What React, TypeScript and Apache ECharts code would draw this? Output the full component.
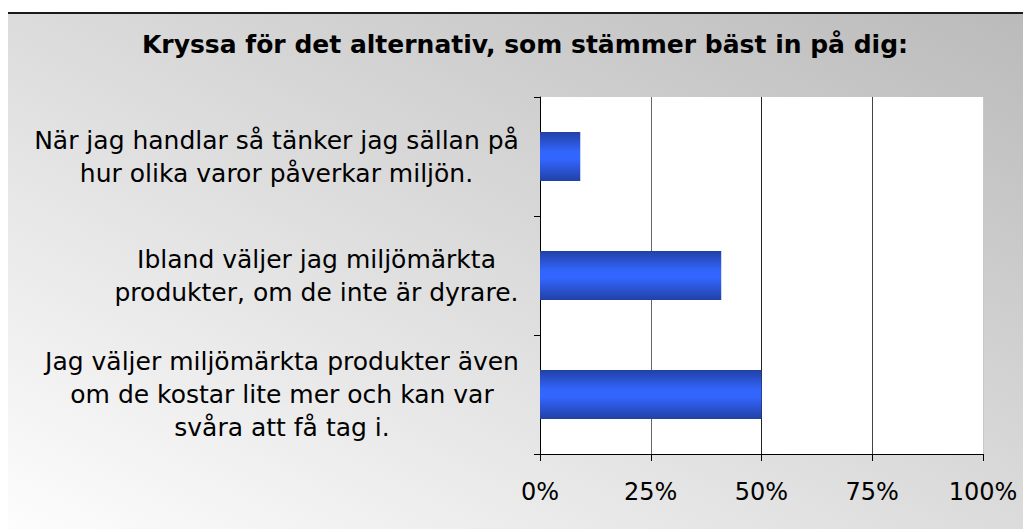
import React, { useEffect, useRef } from "react";
import * as echarts from "echarts";

const TITLE = "Kryssa för det alternativ, som stämmer bäst in på dig:";
// bottom-to-top order (category axis draws first item at the bottom)
const CATEGORIES = [
  "Jag väljer miljömärkta produkter även\nom de kostar lite mer och kan var\nsvåra att få tag i.",
  "Ibland väljer jag miljömärkta\nprodukter, om de inte är dyrare.",
  "När jag handlar så tänker jag sällan på\nhur olika varor påverkar miljön.",
];
const VALUES = [50, 40.91, 9.09];
const X_MIN = 0;
const X_MAX = 100;
const X_INTERVAL = 25;

const FONT = '"DejaVu Sans", Verdana, sans-serif';
const LABEL_SIZE = 25;

function measure(text: string, size: number): number {
  const c = document.createElement("canvas");
  const ctx = c.getContext("2d");
  if (!ctx) return 400;
  ctx.font = `${size}px ${FONT}`;
  return Math.max(...text.split("\n").map((l) => ctx.measureText(l).width));
}

export default function App() {
  const ref = useRef<HTMLDivElement>(null);
  useEffect(() => {
    if (!ref.current) return;
    const chart = echarts.init(ref.current, undefined, { renderer: "svg" });
    const rich: Record<string, any> = {};
    CATEGORIES.forEach((c, i) => {
      rich["c" + i] = {
        width: Math.ceil(measure(c, LABEL_SIZE)),
        align: "center",
        fontSize: LABEL_SIZE,
        lineHeight: 33,
        fontFamily: FONT,
        color: "#000",
      };
    });
    const barColor = new echarts.graphic.LinearGradient(0, 0, 0, 1, [
      { offset: 0, color: "#2241a6" },
      { offset: 0.4, color: "#3265fb" },
      { offset: 0.55, color: "#3366ff" },
      { offset: 1, color: "#2241a6" },
    ]);
    chart.setOption({
      animation: false,
      backgroundColor: "#ffffff",
      graphic: [
        {
          type: "rect",
          z: -10,
          silent: true,
          left: 7,
          top: 13,
          shape: { width: 1030, height: 520 },
          style: {
            fill: new echarts.graphic.LinearGradient(0, 1, 1, 0, [
              { offset: 0, color: "#fdfdfd" },
              { offset: 1, color: "#bababa" },
            ]),
          },
        },
        {
          type: "polyline",
          z: -9,
          silent: true,
          shape: { points: [[7, 540], [7, 13], [1040, 13]] },
          style: { stroke: "#1a1a1a", lineWidth: 2, fill: "none" },
        },
      ],
      title: {
        text: TITLE,
        left: 525,
        top: 30,
        textAlign: "center",
        padding: 0,
        textStyle: {
          fontFamily: FONT,
          fontWeight: "bold",
          fontSize: 25,
          lineHeight: 28,
          color: "#000",
        },
      },
      grid: {
        left: 540,
        right: 48,
        top: 97,
        bottom: 75,
        show: true,
        backgroundColor: "#ffffff",
        borderWidth: 0,
      },
      xAxis: {
        type: "value",
        min: X_MIN,
        max: X_MAX,
        interval: X_INTERVAL,
        axisLine: { show: true, lineStyle: { color: "#000", width: 1 } },
        axisTick: { show: true, length: 7, lineStyle: { color: "#000" } },
        axisLabel: {
          formatter: "{value}%",
          margin: 26,
          fontSize: 24,
          lineHeight: 24,
          fontFamily: FONT,
          color: "#000",
        },
        splitLine: {
          show: true,
          lineStyle: { color: ["#000", "#666", "#222", "#444", "#c8c8c8"], width: 1 },
        },
      },
      yAxis: {
        type: "category",
        data: CATEGORIES,
        axisLine: { show: true, lineStyle: { color: "#000", width: 1 } },
        axisTick: { show: true, length: 6, lineStyle: { color: "#000" } },
        axisLabel: {
          margin: 21,
          align: "right",
          formatter: (value: string, index: number) =>
            value
              .split("\n")
              .map((l) => `{c${index}|${l}}`)
              .join("\n"),
          rich,
        },
      },
      series: [
        {
          type: "bar",
          data: VALUES,
          barWidth: 49,
          itemStyle: { color: barColor },
        },
      ],
    });
    return () => chart.dispose();
  }, []);
  return <div ref={ref} style={{ width: 1031, height: 529, marginLeft: -8, marginTop: -8 }} />;
}
